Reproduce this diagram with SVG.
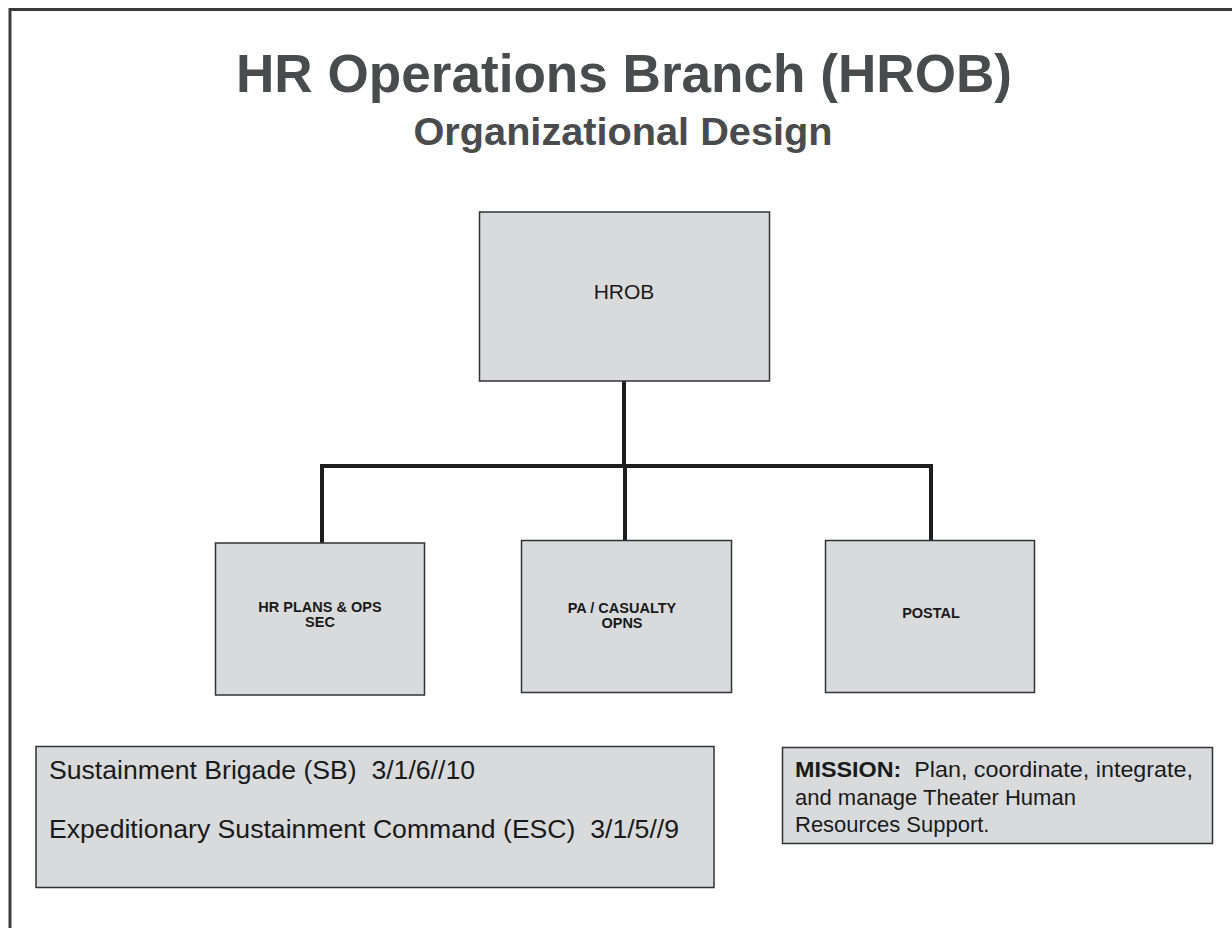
<svg xmlns="http://www.w3.org/2000/svg" width="1232" height="928" viewBox="0 0 1232 928">
  <style>
    .box { fill: #d9dadc; stroke: #333333; stroke-width: 1.5; }
    .conn { fill: none; stroke: #1e1e1e; stroke-width: 4; }
    .frame { fill: none; stroke: #3a3a3a; stroke-width: 3; }
    .title { font-family: "Liberation Sans", Arial, sans-serif; font-weight: bold; fill: #4a4b4d; text-anchor: middle; }
    .lbl { font-family: "Liberation Sans", Arial, sans-serif; font-weight: bold; font-size: 14.5px; fill: #1a1a1a; text-anchor: middle; }
    .body { font-family: "Liberation Sans", Arial, sans-serif; fill: #1a1a1a; white-space: pre; }
  </style>
  <rect x="0" y="0" width="1232" height="928" fill="#ffffff"/>
  <path class="frame" d="M10 928 V9.5 H1232"/>

  <g id="title">
    <text class="title" x="624" y="92" font-size="53" textLength="776" lengthAdjust="spacingAndGlyphs">HR Operations Branch (HROB)</text>
    <text class="title" x="623" y="145" font-size="39" textLength="419" lengthAdjust="spacingAndGlyphs">Organizational Design</text>
  </g>

  <g id="connectors">
    <path class="conn" d="M624 381 V466"/>
    <path class="conn" d="M320 466 H933"/>
    <path class="conn" d="M322 466 V543"/>
    <path class="conn" d="M625 466 V540"/>
    <path class="conn" d="M931 466 V540"/>
  </g>

  <g id="hrob">
    <rect class="box" x="479.5" y="212" width="290" height="169"/>
    <text class="body" x="624" y="299" font-size="21" text-anchor="middle">HROB</text>
  </g>

  <g id="hr-plans">
    <rect class="box" x="215.5" y="543" width="209" height="152"/>
    <text class="lbl" x="320" y="612">HR PLANS &amp; OPS</text>
    <text class="lbl" x="320" y="627">SEC</text>
  </g>

  <g id="pa-casualty">
    <rect class="box" x="521.5" y="540.5" width="210" height="152"/>
    <text class="lbl" x="622" y="613">PA / CASUALTY</text>
    <text class="lbl" x="622" y="628">OPNS</text>
  </g>

  <g id="postal">
    <rect class="box" x="825.5" y="540.5" width="209" height="152"/>
    <text class="lbl" x="931" y="618">POSTAL</text>
  </g>

  <g id="units">
    <rect class="box" x="36" y="746.5" width="678" height="141"/>
    <text class="body" x="49" y="779" font-size="25" textLength="426" lengthAdjust="spacingAndGlyphs" xml:space="preserve">Sustainment Brigade (SB)  3/1/6//10</text>
    <text class="body" x="49" y="838" font-size="25" textLength="630" lengthAdjust="spacingAndGlyphs" xml:space="preserve">Expeditionary Sustainment Command (ESC)  3/1/5//9</text>
  </g>

  <g id="mission">
    <rect class="box" x="782.5" y="747.5" width="430" height="96"/>
    <text class="body" x="795" y="777" font-size="22" textLength="398" lengthAdjust="spacingAndGlyphs" xml:space="preserve"><tspan font-weight="bold">MISSION:</tspan>  Plan, coordinate, integrate,</text>
    <text class="body" x="795" y="805" font-size="22">and manage Theater Human</text>
    <text class="body" x="795" y="832" font-size="22">Resources Support.</text>
  </g>
</svg>
